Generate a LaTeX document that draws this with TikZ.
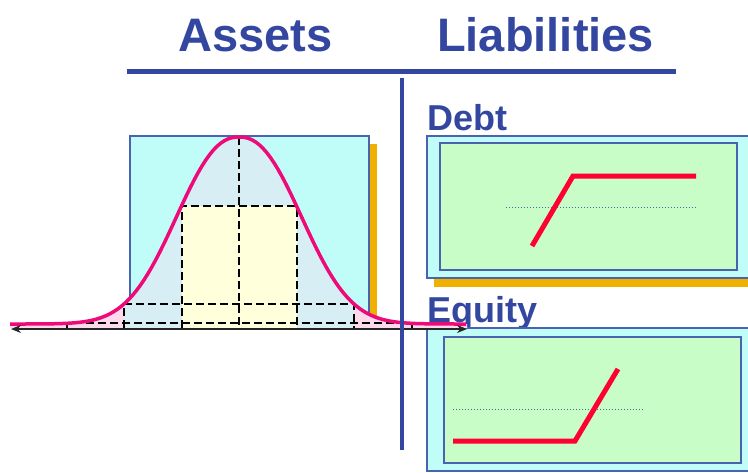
\documentclass[tikz,border=0pt]{standalone}
\usepackage{fontspec}
\setmainfont{Liberation Sans}
\usepackage{xcolor}
\usepackage{tikz}
\usetikzlibrary{arrows.meta}

\definecolor{titleblue}{HTML}{3347A0}
\definecolor{edgeblue}{HTML}{4A63B0}
\definecolor{cyanbox}{HTML}{C0FDF9}
\definecolor{chartgreen}{HTML}{C8FDC8}
\definecolor{shadeorange}{HTML}{F0B000}
\definecolor{payred}{HTML}{FF0032}
\definecolor{bellpink}{HTML}{EE0A78}
\definecolor{tailpink}{HTML}{FDD9EC}
\definecolor{bellblue}{HTML}{D8EEF5}
\definecolor{coreyellow}{HTML}{FFFFDC}

\begin{document}
\begin{tikzpicture}[
    x=1pt, y=-1pt,
    >={Stealth[length=10pt,width=8pt]},
    declare function={bell(\t)=324-187*exp(-0.46*pow(abs((\t-239)/57.5)+0.0001,2.28));},
    every node/.style={text=titleblue, inner sep=0pt, anchor=base west},
    heading/.style={font=\fontsize{47}{56}\selectfont\bfseries},
    subheading/.style={font=\fontsize{36}{43}\selectfont\bfseries},
    panel/.style={fill=cyanbox, draw=edgeblue, line width=1.2pt},
    chart/.style={fill=chartgreen, draw=edgeblue, line width=1.6pt},
    shade/.style={fill=shadeorange},
    payoff/.style={draw=payred, line width=5pt},
    level/.style={draw=edgeblue, dotted, line width=1pt},
    band/.style={draw=black, line width=2pt, dash pattern=on 8pt off 4pt},
    rule/.style={draw=titleblue, line width=4.5pt},
    axis/.style={<->, draw=black!85, line width=1.4pt}
]
\useasboundingbox (0,0) rectangle (748,472);
\fill[white] (0,0) rectangle (748,472);

% Headings
\node (assets) [heading] at (178,51) {Assets};
\node (liab) [heading] at (437,51) {Liabilities};
\draw[rule] (127,71.5) -- (676,71.5);

% Debt
\node (debt) [subheading] at (427,130) {Debt};
\fill[shade] (434,145) rectangle (760,287);
\draw[panel] (427,136) rectangle (760,278);
\draw[chart] (440,143) rectangle (737,270);
\draw[level] (506,207) -- (697,207);
\draw[payoff] (532,246) -- (573,176) -- (696,176);

% Equity
\node (equity) [subheading] at (427,322) {Equity};
\draw[panel] (427,328) rectangle (760,471);
\draw[chart] (444,337) rectangle (741,463);
\draw[level] (453,409) -- (643,409);
\draw[payoff] (453,441) -- (575,441) -- (618,369);

% Asset distribution
\fill[shade] (138,144) rectangle (377,329);
\draw[panel] (130,136) rectangle (369,329);
\fill[tailpink] plot[domain=10:467, samples=120] (\x,{bell(\x)}) -- (467,328) -- (10,328) -- cycle;
\fill[bellblue] plot[domain=124:354, samples=60] (\x,{bell(\x)}) -- (354,328) -- (124,328) -- cycle;
\fill[coreyellow] (181.5,{bell(181.5)}) rectangle (296.5,328);
\foreach \k in {1,2,3}{
  \draw[band] ({239-57.5*\k},328) -- ({239-57.5*\k},{bell(239-57.5*\k)})
    -- ({239+57.5*\k},{bell(239+57.5*\k)}) -- ({239+57.5*\k},328);
}
\draw[band] (239,137) -- (239,328);
\draw[bellpink, line width=3.5pt] plot[domain=10:466, samples=120] (\x,{bell(\x)});
\coordinate (axisl) at (11,329);
\coordinate (axisr) at (467,329);
\draw[axis] (axisl) -- (axisr);

\draw[rule] (402,78) -- (402,450);
\end{tikzpicture}
\end{document}
